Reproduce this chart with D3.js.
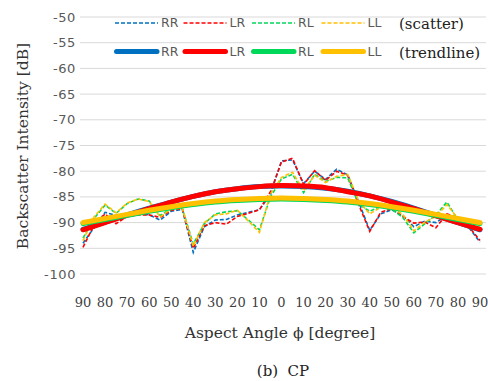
<!DOCTYPE html>
<html>
<head>
<meta charset="utf-8">
<script src="https://cdn.jsdelivr.net/npm/d3@7"></script>
<style>
  html, body { margin: 0; padding: 0; background: #fff; }
  svg { display: block; }
</style>
</head>
<body>
<svg id="chart" width="488" height="381"></svg>
<script>
// aspect angle, -90 (left side, labelled 90) to 90 in 5 degree steps
const angles = d3.range(-90, 91, 5)

// scatter series [dB]
const rr = [-94.0, -91.0, -88.0, -88.6, -88.2, -88.3, -88.5, -89.5, -87.8, -87.4,
            -95.8, -90.8, -89.5, -89.4, -88.5, -88.0, -87.5, -84.5, -78.0, -77.8,
            -82.4, -80.0, -81.6, -79.6, -80.7, -86.0, -91.5, -88.3, -87.5, -88.6,
            -90.8, -89.7, -90.0, -88.6, -89.3, -91.0, -93.8]
const lr = [-94.8, -90.5, -88.3, -90.2, -88.8, -88.5, -88.5, -89.0, -87.6, -87.3,
            -95.0, -90.6, -90.0, -90.3, -88.8, -88.2, -87.5, -84.0, -78.2, -77.5,
            -82.6, -79.9, -81.8, -80.0, -80.8, -86.5, -91.7, -88.0, -87.3, -88.8,
            -90.1, -89.9, -91.0, -88.3, -89.1, -90.8, -93.5]
const rl = [-93.0, -89.2, -86.6, -88.2, -86.3, -85.4, -85.8, -88.6, -87.3, -87.2,
            -94.2, -90.2, -88.3, -87.9, -87.7, -89.5, -91.4, -85.0, -81.5, -80.6,
            -84.2, -80.6, -82.0, -81.2, -81.3, -86.4, -87.8, -86.8, -87.4, -89.0,
            -92.0, -90.2, -88.5, -86.0, -89.5, -90.4, -91.0]
const ll = [-93.5, -88.9, -86.4, -88.1, -86.2, -85.4, -85.9, -88.9, -87.3, -87.2,
            -94.6, -90.0, -88.5, -88.3, -87.6, -89.7, -91.9, -84.4, -81.2, -80.2,
            -83.8, -80.8, -82.2, -81.0, -80.6, -85.8, -88.3, -87.0, -87.2, -88.4,
            -91.6, -89.9, -88.8, -86.5, -89.2, -90.2, -90.8]

// trendlines, read every 10 degrees
const trendAngles = d3.range(-90, 91, 10)
const rrTrend = [-91.3, -89.9, -88.5, -87.2, -86.0, -84.9, -84.0, -83.4, -83.0, -82.9,
                 -83.0, -83.3, -83.9, -84.8, -85.9, -87.2, -88.6, -90.0, -91.4]
const lrTrend = [-91.4, -90.0, -88.6, -87.3, -86.0, -84.9, -84.0, -83.4, -83.0, -82.8,
                 -82.9, -83.2, -84.0, -84.8, -86.0, -87.3, -88.7, -90.0, -91.3]
const rlTrend = [-90.2, -89.4, -88.6, -87.8, -87.1, -86.5, -86.0, -85.7, -85.5, -85.4,
                 -85.5, -85.7, -86.0, -86.5, -87.1, -87.8, -88.6, -89.4, -90.2]
const llTrend = [-90.0, -89.2, -88.4, -87.6, -86.9, -86.3, -85.8, -85.5, -85.3, -85.2,
                 -85.3, -85.5, -85.8, -86.3, -86.9, -87.6, -88.4, -89.2, -90.0]

const yTicks = d3.range(-100, -49, 5)
const xTicks = d3.range(-90, 91, 10)

const series = [
  { name: 'RR', color: '#0070c0', scatter: rr, trend: rrTrend },
  { name: 'LR', color: '#ff0000', scatter: lr, trend: lrTrend },
  { name: 'RL', color: '#00d85a', scatter: rl, trend: rlTrend },
  { name: 'LL', color: '#ffc000', scatter: ll, trend: llTrend }
]

const
  svg    = d3.select('#chart'),
  plotX0 = 80,
  plotX1 = 486,
  xScale = d3.scaleLinear().domain([-90, 90]).range([83, 480]),
  yScale = d3.scaleLinear().domain([-100, -50]).range([274, 17])

// gridlines
svg.append('g')
  .selectAll('line')
  .data(yTicks)
  .join('line')
    .attr('x1', plotX0)
    .attr('x2', plotX1)
    .attr('y1', d => yScale(d))
    .attr('y2', d => yScale(d))
    .attr('stroke', '#d9d9d9')
    .attr('stroke-width', 1)

// y tick labels
svg.append('g')
  .selectAll('text')
  .data(yTicks)
  .join('text')
    .attr('x', 76)
    .attr('y', d => yScale(d))
    .attr('dy', '0.35em')
    .attr('text-anchor', 'end')
    .attr('font-family', 'DejaVu Sans, sans-serif')
    .attr('font-size', 13)
    .attr('letter-spacing', 0.6)
    .attr('fill', '#595959')
    .text(d => d)

// x tick labels (angle magnitude on both sides)
svg.append('g')
  .selectAll('text')
  .data(xTicks)
  .join('text')
    .attr('x', d => xScale(d))
    .attr('y', 307)
    .attr('text-anchor', 'middle')
    .attr('font-family', 'DejaVu Serif, serif')
    .attr('font-size', 13)
    .attr('fill', '#404040')
    .text(d => Math.abs(d))

// scatter lines (dashed)
const scatterLine = d3.line()
  .x((d, i) => xScale(angles[i]))
  .y(d => yScale(d))

series.forEach(s =>
{
  svg.append('path')
    .attr('d', scatterLine(s.scatter))
    .attr('fill', 'none')
    .attr('stroke', s.color)
    .attr('stroke-width', 1.6)
    .attr('stroke-dasharray', '4,2')
})

// trendlines
const trendLine = d3.line()
  .x((d, i) => xScale(trendAngles[i]))
  .y(d => yScale(d))
  .curve(d3.curveNatural)

series.forEach(s =>
{
  svg.append('path')
    .attr('d', trendLine(s.trend))
    .attr('fill', 'none')
    .attr('stroke', s.color)
    .attr('stroke-width', 5)
    .attr('stroke-linecap', 'round')
})

// legend
const legendX = [115, 183.5, 252, 321.5]
series.forEach((s, i) =>
{
  const x = legendX[i]
  svg.append('line')
    .attr('x1', x).attr('x2', x + 43)
    .attr('y1', 23).attr('y2', 23)
    .attr('stroke', s.color)
    .attr('stroke-width', 1.6)
    .attr('stroke-dasharray', '4,2')
  svg.append('line')
    .attr('x1', x + 1.5).attr('x2', x + 42)
    .attr('y1', 51.5).attr('y2', 51.5)
    .attr('stroke', s.color)
    .attr('stroke-width', 5)
    .attr('stroke-linecap', 'round')
  ;[23, 52].forEach(y =>
  {
    svg.append('text')
      .attr('x', x + 46)
      .attr('y', y)
      .attr('dy', '0.35em')
      .attr('font-family', 'DejaVu Sans, sans-serif')
      .attr('font-size', 12.5)
      .attr('fill', '#595959')
      .text(s.name)
  })
})

const serif = 'DejaVu Serif, Liberation Serif, serif'

svg.append('text')
  .attr('x', 399).attr('y', 29)
  .attr('font-family', serif).attr('font-size', 15)
  .attr('fill', '#222')
  .text('(scatter)')

svg.append('text')
  .attr('x', 399).attr('y', 58)
  .attr('font-family', serif).attr('font-size', 15)
  .attr('fill', '#222')
  .text('(trendline)')

// axis titles
svg.append('text')
  .attr('x', 280).attr('y', 338)
  .attr('text-anchor', 'middle')
  .attr('font-family', serif).attr('font-size', 15.5)
  .attr('fill', '#333')
  .text('Aspect Angle ϕ [degree]')

svg.append('text')
  .attr('transform', 'translate(28,146) rotate(-90)')
  .attr('text-anchor', 'middle')
  .attr('font-family', serif).attr('font-size', 15.5)
  .attr('fill', '#333')
  .text('Backscatter Intensity [dB]')

svg.append('text')
  .attr('x', 283).attr('y', 376)
  .attr('text-anchor', 'middle')
  .attr('font-family', serif).attr('font-size', 15)
  .attr('fill', '#222')
  .attr('xml:space', 'preserve')
  .text('(b)  CP')
</script>
</body>
</html>
